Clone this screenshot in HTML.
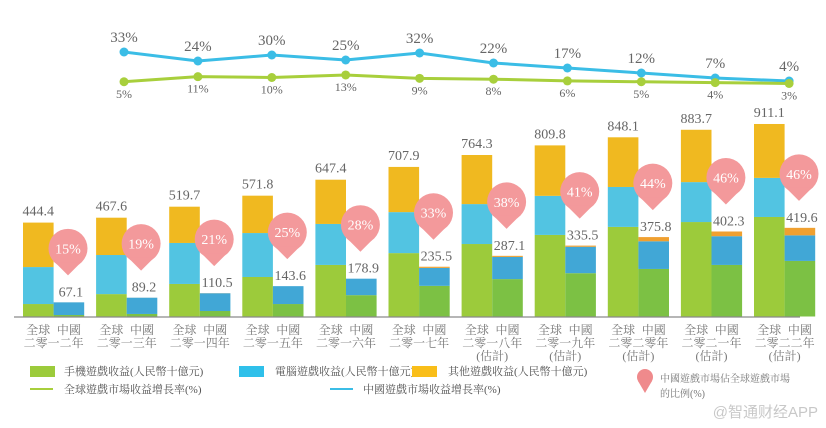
<!DOCTYPE html>
<html><head><meta charset="utf-8">
<style>
body{margin:0;background:#fff;}
svg{display:block;font-family:"Liberation Serif","Noto Serif CJK SC",serif;}
</style></head>
<body>
<svg id="chart" width="826" height="428" viewBox="0 0 826 428">
<g id="lines"></g>
<g id="bars"></g>
<line x1="14" y1="317" x2="800" y2="317" stroke="#8a8a8a" stroke-width="1.2"/>
<g id="xlabels" font-family="Liberation Serif, Noto Serif CJK TC, serif" font-size="12" fill="#777"></g>
<g font-family="Liberation Serif, Noto Serif CJK TC, serif" font-size="11" fill="#555">
  <g><rect x="30" y="366" width="25" height="11" fill="#9ccb3b"/><text x="64" y="375">手機遊戲收益(人民幣十億元)</text></g>
  <g><rect x="239" y="366" width="25" height="11" fill="#2fc0ea"/><text x="275" y="375">電腦遊戲收益(人民幣十億元)</text></g>
  <g><rect x="412" y="366" width="25" height="11" fill="#f9be19"/><text x="448" y="375">其他遊戲收益(人民幣十億元)</text></g>
  <g><line x1="30" y1="389" x2="53" y2="389" stroke="#a8cf3c" stroke-width="2"/><text x="64" y="393">全球遊戲市場收益增長率(%)</text></g>
  <g><line x1="330" y1="389" x2="353" y2="389" stroke="#3bbde6" stroke-width="2"/><text x="363" y="393">中國遊戲市場收益增長率(%)</text></g>
  <g><circle cx="645" cy="377" r="8" fill="#ef8a8c"/><path d="M638 381 L645 393 L652 381 Z" fill="#ef8a8c"/><text x="660" y="382" font-size="10" fill="#777">中國遊戲市場佔全球遊戲市場</text><text x="660" y="397" font-size="10" fill="#777">的比例(%)</text></g>
</g>
<text x="818" y="417" text-anchor="end" font-family="Liberation Sans, Noto Sans CJK SC, sans-serif" font-size="15" fill="#c8c8c8">@智通财经APP</text>
</svg>
<script>
const years = ["二零一二年","二零一三年","二零一四年","二零一五年","二零一六年","二零一七年","二零一八年","二零一九年","二零二零年","二零二一年","二零二二年"];
const estimated = [false,false,false,false,false,false,true,true,true,true,true];
const globalTotal = [444.4,467.6,519.7,571.8,647.4,707.9,764.3,809.8,848.1,883.7,911.1];
const globalMobile = [59,106,154,187,244,300,343,386,424,447,471];
const globalPC = [175,185,194,208,194,194,189,185,189,189,185];
const chinaTotal = [67.1,89.2,110.5,143.6,178.9,235.5,287.1,335.5,375.8,402.3,419.6];
const chinaMobile = [7,12,26,59,101,145,177,205,225,244,263];
const chinaPC = [60,77,84,84.6,78,85,105,125,131,136,121];
const chinaShare = ["15%","19%","21%","25%","28%","33%","38%","41%","44%","46%","46%"];
const chinaGrowth = [33,24,30,25,32,22,17,12,7,4];
const globalGrowth = [5,11,10,13,9,8,6,5,4,3];

const NS="http://www.w3.org/2000/svg";
function mk(tag,attrs,parent,text){const e=document.createElementNS(NS,tag);for(const k in attrs)e.setAttribute(k,attrs[k]);if(text!==undefined)e.textContent=text;parent.appendChild(e);return e;}
const base=316.5, k=0.2113;
const yv=v=>base-v*k;
const gx=i=>23+i*73.1;
const bw=30.6;
const bars=document.getElementById('bars');
const xl=document.getElementById('xlabels');
const pinLayer=[];
years.forEach((y,i)=>{
  const x=gx(i), cx=x+bw;
  const gOther=globalTotal[i]-globalMobile[i]-globalPC[i];
  const segs=[[globalMobile[i],'#9ccb3b','global-mobile'],[globalPC[i],'#52c4e2','global-pc'],[gOther,'#f0b920','global-other']];
  let acc=0;
  segs.forEach(s=>{const r=mk('rect',{x:x,y:yv(acc+s[0]),width:bw,height:s[0]*k,fill:s[1]},bars);
    
    acc+=s[0];});
  const cOther=chinaTotal[i]-chinaMobile[i]-chinaPC[i];
  const csegs=[[chinaMobile[i],'#7cc144','china-mobile'],[chinaPC[i],'#41a7d6','china-pc'],[Math.max(cOther,0),'#f0a030','china-other']];
  acc=0;
  csegs.forEach(s=>{const r=mk('rect',{x:cx,y:yv(acc+s[0]),width:bw,height:s[0]*k,fill:s[1]},bars);
    
    acc+=s[0];});
  const t1=mk('text',{x:x+bw/2,y:yv(globalTotal[i])-7,'text-anchor':'middle','font-size':'14',fill:'#666'},bars,globalTotal[i].toFixed(1));
  
  
  const t2=mk('text',{x:cx+bw/2+2,y:yv(chinaTotal[i])-6,'text-anchor':'middle','font-size':'14',fill:'#666'},bars,chinaTotal[i].toFixed(1));
  
  
  // pin
  const py=yv(chinaTotal[i])-54;
  const px=x+45;
  const pg=mk('g',{},bars);
  
  
  mk('circle',{cx:px,cy:py,r:19.5,fill:'#f3999b'},pg);
  mk('path',{d:`M${px-13} ${py+14} L${px} ${py+27} L${px+13} ${py+14} Z`,fill:'#f3999b'},pg);
  mk('text',{x:px,y:py+5,'text-anchor':'middle','font-size':'14',fill:'#fff'},pg,chinaShare[i]);
  // x labels
  const lg=mk('g',{},xl);
  
  
  mk('text',{x:x+bw/2,y:334,'text-anchor':'middle'},lg,'全球');
  mk('text',{x:cx+bw/2,y:334,'text-anchor':'middle'},lg,'中國');
  mk('text',{x:x+bw,y:347,'text-anchor':'middle'},lg,y);
  if(estimated[i]) mk('text',{x:x+bw,y:360,'text-anchor':'middle'},lg,'(估計)');
});
// growth lines
const lines=document.getElementById('lines');
const lx=i=>124+i*73.9;
const yc=v=>85-v*1.0;
const yg=v=>86-v*0.85;
function drawLine(vals,yf,color,name,above,fs){
  const pts=vals.map((v,i)=>lx(i)+','+yf(v)).join(' ');
  const pl=mk('polyline',{points:pts,fill:'none',stroke:color,'stroke-width':3},lines);
  
  
  vals.forEach((v,i)=>{
    const c=mk('circle',{cx:lx(i),cy:yf(v),r:4.5,fill:color},lines);
    
    
    const t=mk('text',{x:lx(i),y:above?yf(v)-10:yf(v)+16,'text-anchor':'middle','font-size':fs,fill:'#666'},lines,v+'%');
    
    
  });
}
drawLine(chinaGrowth,yc,'#3bbde6','china-growth',true,15);
drawLine(globalGrowth,yg,'#a8cf3c','global-growth',false,12);
</script>
</body></html>
